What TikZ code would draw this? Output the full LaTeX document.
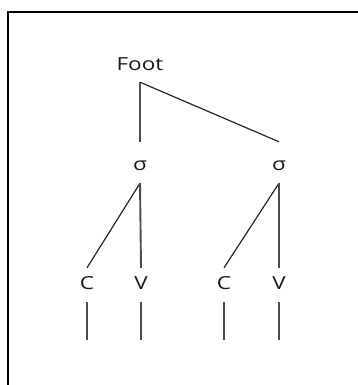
\documentclass[tikz,border=0pt]{standalone}
\usepackage{fontspec}
\setmainfont{Open Sans}
\usetikzlibrary{positioning, calc}

\begin{document}
\begin{tikzpicture}[x=1pt, y=-1pt,
  lbl/.style={inner sep=0pt, anchor=base, font=\fontsize{18}{21}\selectfont, xscale=1.25, text=black!90},
  branch/.style={draw=black!70, line width=1.9pt}]
\useasboundingbox (0,0) rectangle (358,385);
\draw[line width=1.2pt] (8,390) -- (8,12) -- (362,12);

\node (foot) at (140,71) [lbl, text height=14pt, text depth=11pt] {Foot};
\node (s1) at (140,170) [lbl, text height=28pt, text depth=13pt] {σ};
\node (s2) at (279,170) [lbl, text height=28pt, text depth=13pt] {σ};
\node (c1) at (87,289) [lbl, text height=21pt, text depth=13pt] {C};
\node (v1) at (141,289) [lbl, text height=21pt, text depth=13pt] {V};
\node (c2) at (224,289) [lbl, text height=21pt, text depth=13pt] {C};
\node (v2) at (279,289) [lbl, text height=21pt, text depth=13pt] {V};
\coordinate (bot) at (0,340);

\draw[branch] (foot.south) -- (s1.north);
\draw[branch, draw=black!85, line width=1.2pt] (foot.south) -- (s2.north);
\draw[branch, draw=black!85, line width=1.2pt] (s1.south) -- (c1.north);
\draw[branch] (s1.south) -- (v1.north);
\draw[branch, draw=black!85, line width=1.2pt] (s2.south) -- (c2.north);
\draw[branch] (s2.south) -- (v2.north);

\draw[branch] (c1.south) -- (c1 |- bot);
\draw[branch] (v1.south) -- (v1 |- bot);
\draw[branch] (c2.south) -- (c2 |- bot);
\draw[branch] (v2.south) -- (v2 |- bot);
\end{tikzpicture}
\end{document}
